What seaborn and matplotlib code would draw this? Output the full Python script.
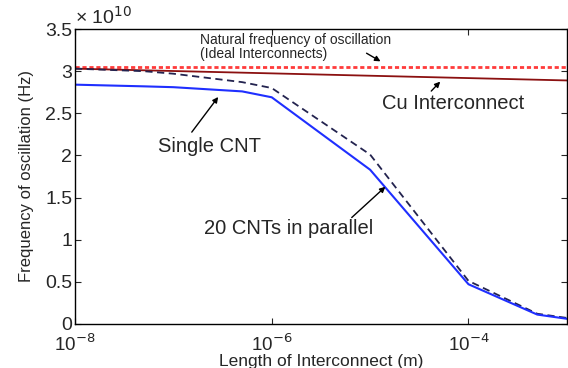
import numpy as np
import pandas as pd
import matplotlib
matplotlib.use('Agg')
import matplotlib.pyplot as plt
import seaborn as sns

# Values (frequency in units of 1e10 Hz)
length_m = [1e-8, 5e-8, 1e-7, 5e-7, 1e-6, 1e-5, 1e-4, 5e-4, 1e-3]
single_cnt = [2.84, 2.82, 2.81, 2.76, 2.69, 1.83, 0.47, 0.11, 0.06]
cnt20_parallel = [3.03, 3.00, 2.97, 2.87, 2.80, 2.01, 0.51, 0.12, 0.07]
cu_length = [1e-8, 1e-3]
cu_freq = [3.03, 2.89]
natural_freq = [3.05, 3.05]

sns.set_style('ticks')
plt.rcParams['font.family'] = ['Liberation Sans', 'DejaVu Sans']
plt.rcParams['xtick.direction'] = 'in'
plt.rcParams['ytick.direction'] = 'in'

df_cnt = pd.DataFrame({'length': length_m, 'single': single_cnt, 'parallel': cnt20_parallel})
df_cu = pd.DataFrame({'length': cu_length, 'cu': cu_freq, 'natural': natural_freq})

fig = plt.figure(figsize=(5.68, 3.68), dpi=100)
ax = fig.add_axes([0.132, 0.12, 0.866, 0.801])

sns.lineplot(data=df_cu, x='length', y='natural', ax=ax, color='#ff3b3b',
             linestyle=(0, (1.5, 1)), linewidth=2)
sns.lineplot(data=df_cu, x='length', y='cu', ax=ax, color='#8b1010', linewidth=1.3)
sns.lineplot(data=df_cnt, x='length', y='parallel', ax=ax, color='#23234f',
             linestyle=(0, (4, 2.5)), linewidth=1.3)
sns.lineplot(data=df_cnt, x='length', y='single', ax=ax, color='#1f2fff', linewidth=1.5)

ax.set_xscale('log')
ax.set_xlim(1e-8, 1e-3)
ax.set_ylim(0, 3.5)
ax.set_xticks([1e-8, 1e-6, 1e-4])
ax.set_xticklabels(['10$^{-8}$', '10$^{-6}$', '10$^{-4}$'])
ax.xaxis.set_minor_locator(matplotlib.ticker.NullLocator())
ax.set_yticks(np.arange(0, 3.51, 0.5))
ax.set_yticklabels(['0', '0.5', '1', '1.5', '2', '2.5', '3', '3.5'])
ax.tick_params(axis='y', labelsize=14, length=4, width=0.8, right=True, pad=2)
ax.tick_params(axis='x', labelsize=13.5, length=4, width=0.8, top=True, pad=7)
for s in ax.spines.values():
    s.set_linewidth(1.0)
    s.set_color('black')

ax.set_xlabel('Length of Interconnect (m)', fontsize=12.5, labelpad=-1)
ax.set_ylabel('Frequency of oscillation (Hz)', fontsize=12, labelpad=8)
ax.text(0.0, 1.005, '\u00d7 10$^{10}$', transform=ax.transAxes, fontsize=14,
        ha='left', va='bottom')

arrow = dict(arrowstyle='-|>', color='black', lw=1.0, mutation_scale=8)
ax.text(1.86e-7, 3.29, 'Natural frequency of oscillation\n(Ideal Interconnects)',
        fontsize=10, ha='left', va='center', linespacing=1.0)
ax.annotate('', xy=(1.35e-5, 3.10), xytext=(8.7e-6, 3.23), arrowprops=arrow)

ax.text(6.9e-5, 2.62, 'Cu Interconnect', fontsize=14.5, ha='center', va='center')
ax.annotate('', xy=(5.4e-5, 2.90), xytext=(4e-5, 2.74), arrowprops=arrow)

ax.text(2.35e-7, 2.10, 'Single CNT', fontsize=14.5, ha='center', va='center')
ax.annotate('', xy=(2.97e-7, 2.72), xytext=(1.48e-7, 2.25), arrowprops=arrow)

ax.text(1.47e-6, 1.13, '20 CNTs in parallel', fontsize=14.5, ha='center', va='center')
ax.annotate('', xy=(1.5e-5, 1.65), xytext=(6.2e-6, 1.24), arrowprops=arrow)

fig.savefig('out.png', dpi=100)
